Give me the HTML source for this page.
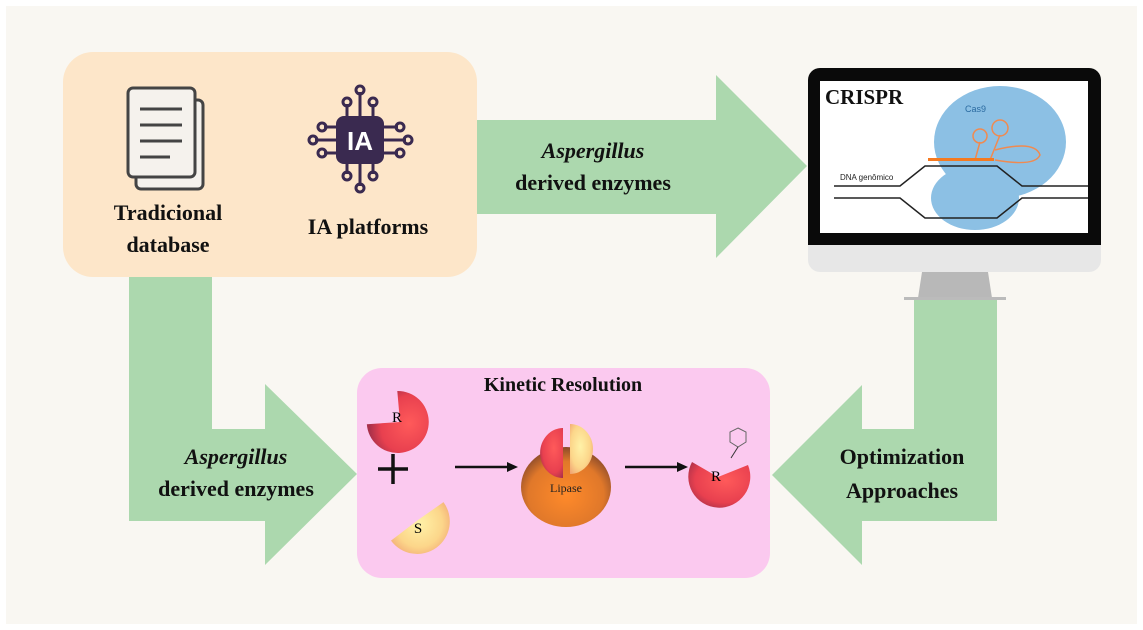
<!DOCTYPE html>
<html><head><meta charset="utf-8"><style>
html,body{margin:0;padding:0;background:#fff}
svg{display:block}
text{font-family:"Liberation Serif",serif}
</style></head><body>
<svg width="1143" height="630" viewBox="0 0 1143 630" xmlns="http://www.w3.org/2000/svg">
<defs>
<radialGradient id="red" cx="0.6" cy="0.4" r="0.7"><stop offset="0" stop-color="#ff5a5a"/><stop offset="0.7" stop-color="#e8404f"/><stop offset="1" stop-color="#a8304a"/></radialGradient>
<radialGradient id="yel" cx="0.45" cy="0.45" r="0.7"><stop offset="0" stop-color="#fff2a8"/><stop offset="0.6" stop-color="#fcd68a"/><stop offset="1" stop-color="#f0a070"/></radialGradient>
<radialGradient id="lip" cx="0.5" cy="0.6" r="0.6"><stop offset="0" stop-color="#ff8a2a"/><stop offset="0.7" stop-color="#e0782a"/><stop offset="1" stop-color="#8a4a2a"/></radialGradient>
</defs>
<rect x="0" y="0" width="1143" height="630" fill="#fff"/>
<rect x="6" y="6" width="1131" height="618" fill="#f9f7f2"/>
<g fill="#acd8ae">
<polygon points="477,120 716,120 716,75 807,166 716,258 716,214 477,214"/>
<polygon points="129,277 212,277 212,429 265,429 265,384 357,474 265,565 265,521 129,521"/>
<polygon points="997,300 914,300 914,429 862,429 862,385 772,475 862,565 862,521 997,521"/>
</g>
<rect x="63" y="52" width="414" height="225" rx="30" fill="#fde6c9"/>
<rect x="136" y="100" width="67" height="89" rx="5" fill="#f5f2ed" stroke="#444" stroke-width="3"/>
<rect x="128" y="88" width="67" height="89" rx="5" fill="#f5f2ed" stroke="#444" stroke-width="3"/>
<g stroke="#444" stroke-width="3"><line x1="140" y1="109" x2="182" y2="109"/><line x1="140" y1="125" x2="182" y2="125"/><line x1="140" y1="141" x2="182" y2="141"/><line x1="140" y1="157" x2="170" y2="157"/></g>
<g stroke="#3a2a50" stroke-width="3" fill="none">
<line x1="360" y1="92" x2="360" y2="120"/><line x1="347" y1="104" x2="347" y2="120"/><line x1="373" y1="104" x2="373" y2="120"/>
<line x1="360" y1="158" x2="360" y2="186"/><line x1="347" y1="158" x2="347" y2="174"/><line x1="373" y1="158" x2="373" y2="174"/>
<line x1="315" y1="140" x2="340" y2="140"/><line x1="324" y1="127" x2="340" y2="127"/><line x1="324" y1="153" x2="340" y2="153"/>
<line x1="380" y1="140" x2="406" y2="140"/><line x1="380" y1="127" x2="398" y2="127"/><line x1="380" y1="153" x2="398" y2="153"/>
<circle cx="360" cy="90" r="4"/><circle cx="347" cy="102" r="4"/><circle cx="373" cy="102" r="4"/>
<circle cx="360" cy="188" r="4"/><circle cx="347" cy="176" r="4"/><circle cx="373" cy="176" r="4"/>
<circle cx="313" cy="140" r="4"/><circle cx="322" cy="127" r="4"/><circle cx="322" cy="153" r="4"/>
<circle cx="408" cy="140" r="4"/><circle cx="400" cy="127" r="4"/><circle cx="400" cy="153" r="4"/>
</g>
<rect x="336" y="116" width="48" height="48" rx="8" fill="#3a2a50"/>
<text x="360" y="150" text-anchor="middle" font-weight="bold" font-size="26" fill="#fff" style="font-family:'Liberation Sans',sans-serif">IA</text>
<g font-weight="bold" font-size="22" fill="#111" text-anchor="middle">
<text x="168" y="220">Tradicional</text><text x="168" y="252">database</text>
<text x="368" y="234">IA platforms</text>
<text x="593" y="158" font-style="italic">Aspergillus</text><text x="593" y="190">derived enzymes</text>
<text x="236" y="464" font-style="italic">Aspergillus</text><text x="236" y="496">derived enzymes</text>
<text x="902" y="464">Optimization</text><text x="902" y="498">Approaches</text>
</g>
<rect x="808" y="68" width="293" height="204" rx="12" fill="#e7e7e7"/>
<path d="M820,68 H1089 a12,12 0 0 1 12,12 V245 H808 V80 a12,12 0 0 1 12,-12Z" fill="#0a0a0a"/>
<rect x="820" y="81" width="268" height="152" fill="#fff"/>
<polygon points="922,272 988,272 992,298 918,298" fill="#b8b8b8"/>
<rect x="904" y="297" width="102" height="3" fill="#bbb"/>
<text x="825" y="104" font-weight="bold" font-size="21" fill="#111">CRISPR</text>
<ellipse cx="1000" cy="142" rx="66" ry="56" fill="#8cc0e4"/>
<ellipse cx="975" cy="198" rx="44" ry="32" fill="#8cc0e4"/>
<text x="965" y="112" font-size="9" fill="#2a6aa0" style="font-family:'Liberation Sans',sans-serif">Cas9</text>
<g stroke="#f08a50" stroke-width="1.5" fill="none">
<circle cx="980" cy="136" r="7"/><circle cx="1000" cy="128" r="8"/><path d="M995,150 q40,-10 45,5 q-5,12 -45,5"/><path d="M975,160 l5,-18 M990,160 l10,-25"/>
</g>
<rect x="928" y="158" width="66" height="3" fill="#f57a20"/>
<g stroke="#222" stroke-width="1.5" fill="none">
<path d="M834,186 H900 L925,166 H997 L1022,186 H1088"/>
<path d="M834,198 H900 L925,218 H997 L1022,198 H1088"/>
</g>
<text x="840" y="180" font-size="8" fill="#222" style="font-family:'Liberation Sans',sans-serif">DNA genômico</text>
<rect x="357" y="368" width="413" height="210" rx="25" fill="#fbc9ef"/>
<text x="563" y="391" text-anchor="middle" font-weight="bold" font-size="20" fill="#111">Kinetic Resolution</text>
<path d="M400,422 L378,400 A31,31 0 1 1 376,445 Z" fill="url(#red)" transform="rotate(40 400 422)"/>
<text x="397" y="422" text-anchor="middle" font-size="15">R</text>
<g stroke="#111" stroke-width="3.5"><line x1="393" y1="454" x2="393" y2="484"/><line x1="378" y1="469" x2="408" y2="469"/></g>
<path d="M418,520 L440,498 A31,31 0 1 1 395,545 Z" fill="url(#yel)" transform="rotate(10 418 520)"/>
<text x="418" y="533" text-anchor="middle" font-size="15">S</text>
<g stroke="#111" stroke-width="2.5"><line x1="455" y1="467" x2="510" y2="467"/><line x1="625" y1="467" x2="680" y2="467"/></g>
<polygon points="518,467 507,462 507,472" fill="#111"/><polygon points="688,467 677,462 677,472" fill="#111"/>
<ellipse cx="566" cy="487" rx="45" ry="40" fill="url(#lip)"/>
<path d="M563,428 A22,24 0 1 0 563,478 Z" fill="url(#red)"/>
<path d="M570,424 A23,25 0 1 1 570,474 Z" fill="url(#yel)"/>
<text x="566" y="492" text-anchor="middle" font-size="12" fill="#222">Lipase</text>
<path d="M718,477 L748,465 A31,31 0 1 1 692,462 Z" fill="url(#red)"/>
<text x="716" y="481" text-anchor="middle" font-size="15">R</text>
<polygon points="738,428 746,432 746,442 738,447 730,442 730,432" fill="none" stroke="#666" stroke-width="1"/>
<line x1="738" y1="447" x2="731" y2="458" stroke="#333" stroke-width="1"/>
</svg>
</body></html>
